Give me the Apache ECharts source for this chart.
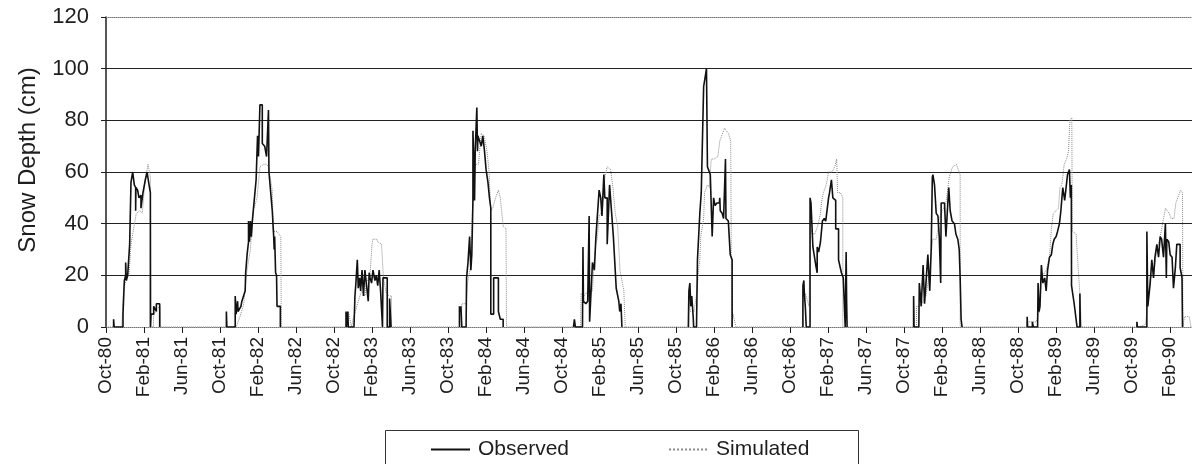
<!DOCTYPE html>
<html>
<head>
<meta charset="utf-8">
<script src="https://cdn.jsdelivr.net/npm/echarts@6/dist/echarts.min.js"></script>
<style>
  html, body { margin: 0; padding: 0; background: #fff; }
  #chart { width: 1192px; height: 464px; }
</style>
</head>
<body>
<div id="chart"></div>
<script>
// x = months since 1 Oct 1980, y = snow depth (cm)
var monthTicks = ['Oct-80', 'Feb-81', 'Jun-81', 'Oct-81', 'Feb-82', 'Jun-82', 'Oct-82', 'Feb-83',
    'Jun-83', 'Oct-83', 'Feb-84', 'Jun-84', 'Oct-84', 'Feb-85', 'Jun-85', 'Oct-85', 'Feb-86',
    'Jun-86', 'Oct-86', 'Feb-87', 'Jun-87', 'Oct-87', 'Feb-88', 'Jun-88', 'Oct-88', 'Feb-89',
    'Jun-89', 'Oct-89', 'Feb-90'];

var obsW81 = [[0.8,0],[0.8,3],[0.86,3],[0.86,0],[1.79,0],[1.79,5],[1.93,18],[2.07,20],[2.07,25],[2.14,25],[2.14,18],
    [2.28,20],[2.49,32],[2.63,56],[2.81,56],[2.81,60],[2.98,55],[3.12,54],[3.12,45],[3.15,54],[3.33,53],[3.47,50],
    [3.68,51],[3.68,46],[3.89,52],[4.14,57],[4.32,60],[4.53,55],[4.67,52],[4.67,0],[4.74,0],[4.74,5],[5.02,5],
    [5.02,8],[5.3,6],[5.3,9],[5.65,9],[5.65,0]];
var simW81 = [[1.65,0],[1.86,15],[2.21,19],[2.42,20],[2.63,32],[2.91,38],[3.19,44],[3.54,45],[3.82,44],[4.07,55],
    [4.42,63],[4.67,58],[4.77,58],[4.77,0],[5.0,0],[5.0,4],[5.3,7],[5.7,8],[5.75,0]];

var obsW82 = [[12.67,0],[12.67,6],[12.72,6],[12.72,0],[13.6,0],[13.6,12],[13.7,5],[13.85,10],[13.9,6],[14.2,8],
    [14.3,10],[14.5,10],[14.65,14],[14.7,21],[14.85,28],[15.0,33],[15.0,41],[15.1,33],[15.2,41],[15.3,35],[15.4,41],
    [15.6,49],[15.8,57],[15.95,74],[16.05,66],[16.2,86],[16.45,86],[16.45,71],[16.7,70],[16.9,66],[17.1,66],
    [17.1,84],[17.15,60],[17.5,45],[17.65,35],[17.7,30],[17.75,35],[17.85,21],[17.95,20],[18.0,8],[18.35,8],[18.35,0]];
var simW82 = [[13.7,0],[14.1,4],[14.5,9],[14.8,21],[15.2,30],[15.5,45],[15.9,50],[16.2,62],[16.6,63],[16.9,63],
    [17.1,62],[17.5,53],[17.6,37],[18.0,37],[18.4,35],[18.45,0]];

var obsW83 = [[25.26,0],[25.26,6],[25.3,6],[25.3,0],[25.45,0],[25.45,6],[25.5,6],[25.5,0],[26.1,0],[26.2,12],
    [26.3,17],[26.45,26],[26.55,15],[26.7,19],[26.8,14],[26.95,22],[27.1,22],[27.1,12],[27.25,22],[27.45,22],
    [27.6,10],[27.7,21],[27.8,19],[27.95,17],[28.1,22],[28.3,18],[28.45,20],[28.6,16],[28.75,22],[28.9,14],
    [29.1,14],[29.1,0],[29.15,0],[29.15,19],[29.6,19],[29.6,0],[29.85,0],[29.85,11],[30.0,11],[30.0,0]];
var simW83 = [[25.4,0],[25.5,6],[25.85,0],[26.0,3],[26.55,10],[26.9,14],[27.25,12],[27.4,17],[27.8,21],[28.0,32],
    [28.1,34],[28.5,34],[28.6,33],[29.0,32],[29.2,19],[29.5,13],[29.8,12],[30.05,12],[30.05,0]];

var obsW84 = [[37.2,0],[37.2,8],[37.3,6],[37.35,8],[37.45,0],[37.9,0],[37.95,19],[38.1,25],[38.27,35],[38.4,22],
    [38.5,28],[38.62,49],[38.62,76],[38.7,66],[38.79,49],[38.86,68],[39.03,85],[39.1,68],[39.14,74],[39.3,74],
    [39.5,70],[39.66,74],[39.84,68],[40.0,61],[40.2,56],[40.36,50],[40.5,46],[40.5,5],[40.8,5],[40.8,19],
    [41.3,19],[41.3,6],[41.5,3],[41.8,3],[41.8,0]];
var simW84 = [[37.4,0],[37.45,9],[37.9,9],[38.05,17],[38.4,24],[38.6,49],[38.8,59],[38.9,63],[39.2,63],[39.5,75],
    [39.8,74],[40.1,68],[40.3,61],[40.5,45],[40.7,46],[41.0,50],[41.3,53],[41.5,50],[41.8,39],[42.1,38],[42.15,0]];

var obsW85 = [[49.2,0],[49.3,3],[49.4,0],[50.15,0],[50.2,31],[50.25,10],[50.5,9],[50.7,10],[50.85,10],[50.85,43],
    [50.9,2],[51.1,2],[51.2,25],[51.4,22],[51.55,34],[51.7,34],[51.9,53],[52.07,50],[52.2,43],[52.35,43],[52.4,59],
    [52.5,50],[52.75,50],[52.75,32],[52.95,32],[53.0,55],[53.2,55],[53.4,35],[53.6,35],[53.7,15],[53.97,10],
    [54.07,6],[54.2,9],[54.3,0]];
var simW85 = [[49.95,0],[50.0,13],[50.35,12],[50.7,14],[51.2,14],[51.4,27],[51.55,32],[51.7,34],[51.9,43],
    [52.25,45],[52.5,58],[52.75,62],[53.1,61],[53.35,54],[53.6,44],[53.85,39],[54.1,22],[54.5,14],[54.65,0]];

var obsW86 = [[61.3,0],[61.35,14],[61.45,17],[61.55,8],[61.65,12],[61.8,4],[61.85,0],[62.15,0],[62.25,26],[62.5,44],
    [62.65,52],[62.9,93],[63.05,93],[63.2,100],[63.3,100],[63.3,62],[63.5,62],[63.6,59],[63.8,59],[63.8,35],
    [63.9,35],[63.95,50],[64.1,47],[64.3,48],[64.55,48],[64.6,50],[64.65,45],[64.85,44],[65.0,42],[65.15,42],
    [65.2,65],[65.25,42],[65.5,41],[65.7,28],[65.9,26],[65.9,0]];
var simW86 = [[61.25,0],[61.3,12],[61.5,6],[61.9,6],[62.2,14],[62.4,23],[62.5,26],[62.6,35],[62.9,42],[63.0,52],
    [63.3,55],[63.5,54],[63.7,65],[64.0,65],[64.4,66],[64.6,72],[65.1,77],[65.5,75],[65.75,72],[65.85,72],
    [65.85,0],[66.0,5],[66.3,0]];

var obsW87 = [[73.35,0],[73.35,16],[73.45,18],[73.5,13],[73.6,8],[73.7,0],[74.1,0],[74.1,50],[74.2,48],[74.4,31],
    [74.55,31],[74.7,24],[74.85,21],[74.85,31],[75.0,29],[75.2,33],[75.4,41],[75.6,42],[75.75,41],[76.05,50],
    [76.15,52],[76.35,57],[76.5,50],[76.8,49],[76.8,38],[77.1,38],[77.1,26],[77.4,21],[77.6,19],[77.8,19],
    [77.8,0],[77.9,0],[77.9,29],[77.95,10],[78.0,0]];
var simW87 = [[73.3,0],[73.3,9],[73.6,13],[74.0,8],[74.1,41],[74.3,36],[74.6,36],[74.9,39],[75.2,44],[75.3,48],
    [75.5,52],[75.8,55],[76.05,60],[76.4,60],[76.7,62],[76.9,65],[77.0,52],[77.3,52],[77.55,50],[77.55,0]];

var obsW88 = [[85.0,0],[85.0,12],[85.05,0],[85.55,0],[85.6,17],[85.8,8],[86.0,24],[86.15,9],[86.3,17],[86.5,28],
    [86.7,14],[86.85,30],[86.97,58],[87.03,59],[87.2,55],[87.38,44],[87.56,43],[87.7,35],[87.85,17],[87.9,48],
    [88.25,48],[88.4,35],[88.6,48],[88.7,54],[88.85,45],[89.05,41],[89.3,40],[89.45,36],[89.65,34],[89.8,30],
    [89.9,19],[90.0,3],[90.1,0]];
var simW88 = [[85.3,0],[85.3,8],[85.65,8],[86.0,10],[86.3,12],[86.7,22],[87.0,34],[87.4,34],[87.7,42],[88.05,45],
    [88.4,48],[88.75,58],[89.1,62],[89.5,63],[89.7,61],[89.9,59],[89.9,0]];

var obsW89 = [[96.95,0],[96.95,4],[97.0,0],[97.5,0],[97.5,2],[97.6,0],[98.05,0],[98.1,17],[98.2,6],[98.3,8],
    [98.45,24],[98.6,17],[98.8,19],[98.95,14],[99.1,22],[99.3,27],[99.5,28],[99.65,32],[99.8,34],[100.0,35],
    [100.15,37],[100.35,40],[100.5,45],[100.7,54],[100.9,49],[101.05,49],[101.2,59],[101.4,61],[101.5,50],
    [101.6,55],[101.62,16],[101.9,9],[102.2,0],[102.5,0],[102.5,13],[102.55,0]];
var simW89 = [[96.9,0],[96.9,2],[97.9,2],[98.25,6],[98.45,19],[98.95,22],[99.3,27],[99.5,38],[99.7,44],[100.25,46],
    [100.4,54],[100.6,55],[100.85,63],[101.1,65],[101.3,68],[101.45,80],[101.65,81],[101.7,37],[102.1,36],
    [102.3,24],[102.55,10],[102.65,0]];

var obsW90 = [[108.5,0],[108.5,2],[108.55,0],[109.55,0],[109.55,37],[109.65,8],[109.9,17],[110.07,26],[110.25,19],
    [110.4,27],[110.6,32],[110.78,27],[110.95,35],[111.1,34],[111.3,27],[111.5,40],[111.6,19],[111.65,34],
    [111.85,33],[112.0,28],[112.2,27],[112.35,15],[112.55,23],[112.7,32],[113.05,32],[113.05,23],[113.25,19],[113.3,0]];
var simW90 = [[108.7,0],[109.4,1],[109.55,6],[109.9,19],[110.25,20],[110.6,30],[110.95,35],[111.3,42],[111.5,46],
    [111.7,46],[111.9,44],[112.1,42],[112.4,42],[112.6,48],[112.9,51],[113.1,53],[113.3,52],[113.35,0],
    [113.45,0],[113.5,4],[114.0,4],[114.2,0]];

var observedWinters = [obsW81, obsW82, obsW83, obsW84, obsW85, obsW86, obsW87, obsW88, obsW89, obsW90];
var simulatedWinters = [simW81, simW82, simW83, simW84, simW85, simW86, simW87, simW88, simW89, simW90];

// observed record has gaps in summer; simulated runs on at zero
var observed = [];
observedWinters.forEach(function (w) {
    observed = observed.concat(w);
    observed.push([w[w.length - 1][0], '-']);
});
var simulated = [[0, 0]];
simulatedWinters.forEach(function (w) {
    simulated = simulated.concat(w);
});
simulated.push([114.3, 0]);

var font = 'Liberation Sans, Arial, sans-serif';
var ink = '#1e1e1e';

var chart = echarts.init(document.getElementById('chart'));
var option = {
    animation: false,
    grid: {left: 106, right: 0, top: 17, bottom: 137, outerBoundsMode: 'none'},
    legend: {
        left: 430,
        top: 439,
        padding: 0,
        itemWidth: 39,
        itemHeight: 14,
        itemGap: 99,
        itemStyle: {opacity: 0},
        data: ['Observed', 'Simulated'],
        textStyle: {fontFamily: font, fontSize: 21, color: ink, padding: [0, 0, 0, 3]}
    },
    graphic: [{
        type: 'rect',
        shape: {x: 385.5, y: 430.5, width: 473, height: 60},
        style: {fill: 'none', stroke: '#333', lineWidth: 1}
    }],
    xAxis: [{
        type: 'value',
        min: 0,
        max: 114.3,
        interval: 4,
        axisLine: {lineStyle: {color: '#777', type: 'dotted', width: 1}},
        axisTick: {show: true, length: 6, lineStyle: {color: ink}},
        splitLine: {show: false},
        axisLabel: {
            rotate: 90,
            margin: 10,
            fontFamily: font,
            fontSize: 19,
            color: ink,
            showMaxLabel: false,
            formatter: function (v) {
                var i = Math.round(v / 4);
                return Math.abs(v - i * 4) < 1e-6 ? (monthTicks[i] || '') : '';
            }
        }
    }, {
        type: 'value',
        position: 'top',
        min: 0,
        max: 114.3,
        axisLine: {lineStyle: {color: '#777', type: 'dotted', width: 1}},
        axisTick: {show: false},
        axisLabel: {show: false},
        splitLine: {show: false}
    }],
    yAxis: {
        type: 'value',
        min: 0,
        max: 120,
        interval: 20,
        name: 'Snow Depth (cm)',
        nameLocation: 'middle',
        nameGap: 66,
        nameTextStyle: {fontFamily: font, fontSize: 24, color: ink, padding: [0, 0, 0, 24]},
        axisLine: {show: true, lineStyle: {color: ink, width: 1.5}},
        axisTick: {show: true, length: 5, lineStyle: {color: ink}},
        axisLabel: {fontFamily: font, fontSize: 22, color: ink, margin: 17},
        splitLine: {show: true, showMinLine: false, showMaxLine: false, lineStyle: {color: '#222', width: 1.2}}
    },
    series: [{
        name: 'Observed',
        type: 'line',
        showSymbol: false,
        symbol: 'none',
        z: 3,
        connectNulls: false,
        lineStyle: {color: '#111', width: 1.6},
        itemStyle: {color: '#111'},
        data: observed
    }, {
        name: 'Simulated',
        type: 'line',
        showSymbol: false,
        symbol: 'none',
        z: 2,
        lineStyle: {color: '#8a8a8a', width: 1, type: 'dotted'},
        itemStyle: {color: '#8a8a8a'},
        data: simulated
    }]
};
chart.setOption(option);
</script>
</body>
</html>
